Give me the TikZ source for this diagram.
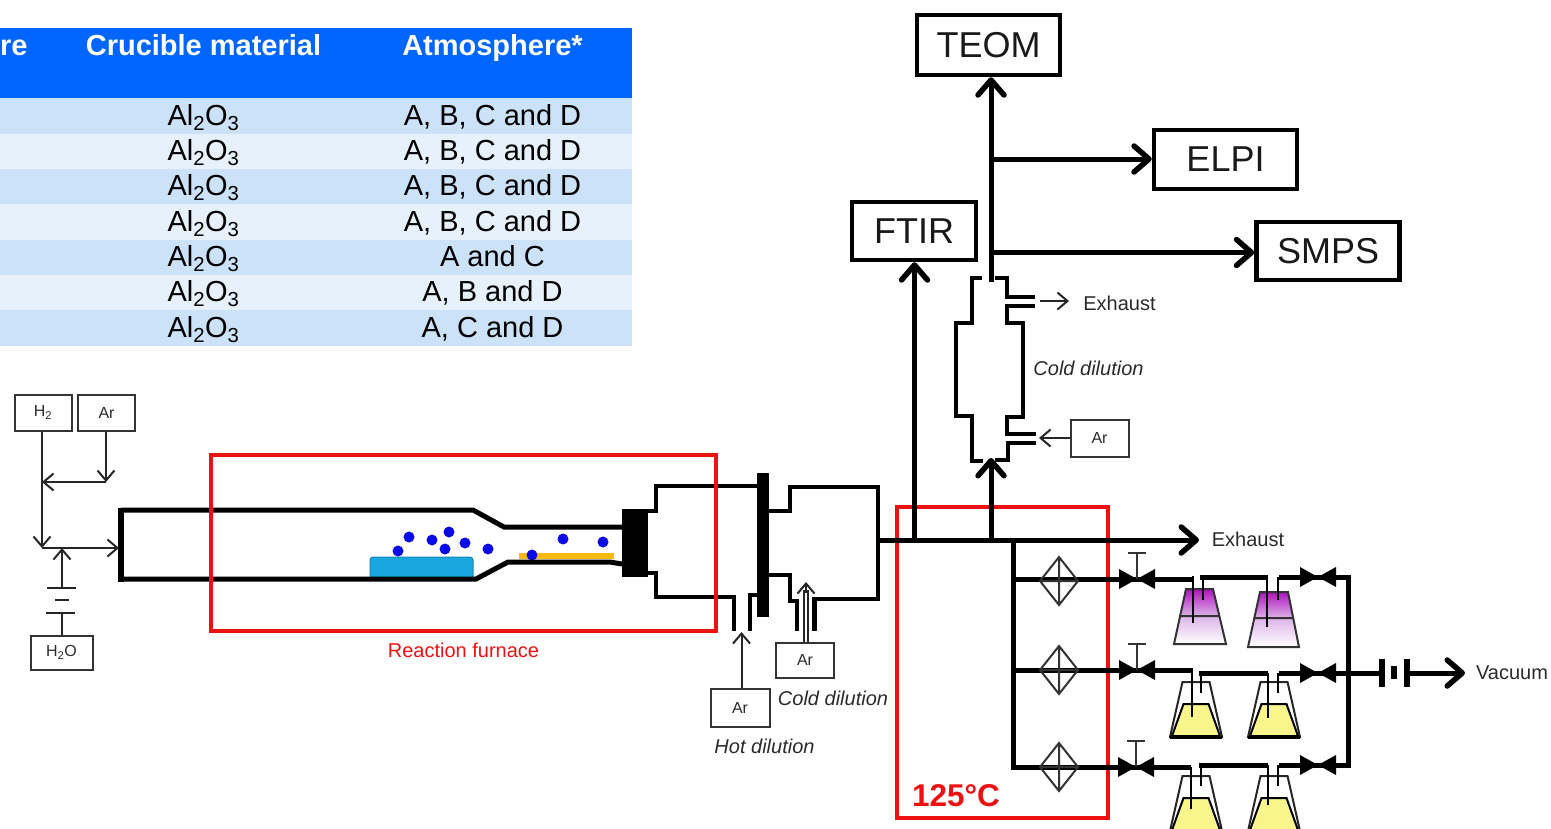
\documentclass[tikz,border=0pt]{standalone}
\usepackage{fontspec}
\setmainfont{Liberation Sans}
\usetikzlibrary{arrows.meta,calc}
\definecolor{hdrblue}{HTML}{0066FF}
\definecolor{rowa}{HTML}{CBE2F9}
\definecolor{rowb}{HTML}{E6F1FC}
\definecolor{furnred}{HTML}{EE1111}
\definecolor{inktext}{HTML}{2A2A2A}
\definecolor{sampleblue}{HTML}{1AA7E0}
\definecolor{stripgold}{HTML}{F5BB12}
\definecolor{dotblue}{HTML}{0A0AE6}
\definecolor{liqyellow}{HTML}{F8F58C}
\definecolor{purpletop}{HTML}{B012C0}
\definecolor{purplemid}{HTML}{DCB4E8}
\newcommand{\fsz}[1]{\fontsize{#1pt}{#1pt}\selectfont}
\tikzset{
  bigbox/.style={draw=black,line width=4.5pt,inner sep=0pt,font=\fsz{36},text=black!90},
  smallbox/.style={draw=black!80,line width=2pt,inner sep=0pt,font=\fsz{16},text=inktext},
  lab/.style={inner sep=0pt,font=\fsz{20},text=inktext},
  cell/.style={anchor=base,inner sep=0pt,font=\fsz{29},text=black},
  hcell/.style={anchor=base,inner sep=0pt,font=\fsz{29}\bfseries,text=white},
  thickln/.style={line width=5pt,line join=miter,draw=black},
  pipe/.style={line width=4.5pt,line join=miter,draw=black},
  thinln/.style={line width=2pt,draw=black!85},
  bigtip/.style={-{Straight Barb[length=15pt,width=26pt,line width=5.5pt,round]}},
  thintip/.style={-{Straight Barb[length=10pt,width=17pt,line width=2pt]}},
  redbox/.style={draw=furnred,line width=4.5pt,line join=miter},
  dotp/.style={fill=dotblue,draw=none},
  yflask/.pic={
    \draw[line width=2pt,draw=black!85] (-13.5,0)--(13.5,0)--(26,55)--(-26,55)--cycle;
    \draw[fill=liqyellow,line width=2pt] (-12.5,22)--(12.5,22)--(24,54)--(-24,54)--cycle;
    \draw[line width=3pt] (-26,55)--(26,55);
  },
  diam/.pic={
    \draw[line width=2pt,draw=black!80] (-19,0)--(0,-24)--(19,0)--(0,24)--cycle (0,-24)--(0,24) (-19,0)--(19,0);
  },
  valvebt/.pic={
    \fill[black] (-18,-10)--(0,0)--(-18,10)--cycle (18,-10)--(0,0)--(18,10)--cycle;
  },
  stemT/.pic={
    \draw[line width=2pt,draw=black!80] (0,0)--(0,-26) (-9,-26)--(9,-26);
  }
}
\begin{document}
\begin{tikzpicture}[x=1pt,y=-1pt]
\useasboundingbox (0,0) rectangle (1551,828);
\clip (0,0) rectangle (1551,828);
% table
\fill[hdrblue] (0,28) rectangle (632,98);
\fill[rowa] (0,98) rectangle (632,134);
\fill[rowb] (0,134) rectangle (632,169);
\fill[rowa] (0,169) rectangle (632,204);
\fill[rowb] (0,204) rectangle (632,240);
\fill[rowa] (0,240) rectangle (632,275);
\fill[rowb] (0,275) rectangle (632,310);
\fill[rowa] (0,310) rectangle (632,346);
\node[hcell,anchor=base west] (h1) at (0,55) {re};
\node[hcell] (h2) at (203.5,55) {Crucible material};
\node[hcell] (h3) at (492.5,55) {Atmosphere*};
\foreach \i/\yy/\t in {1/125/{A, B, C and D},2/160/{A, B, C and D},3/195/{A, B, C and D},4/231/{A, B, C and D},5/266/{A and C},6/301/{A, B and D},7/337/{A, C and D}}{
  \node[cell] (m\i) at (203.5,\yy) {Al\textsubscript{2}O\textsubscript{3}};
  \node[cell] (a\i) at (492.5,\yy) {\t};
}
% furnace sample and particles
\draw[fill=sampleblue,draw=sampleblue!80!black,line width=1pt,rounded corners=3pt] (370,579)--(370,557)--(473,557)--(473,579);
\fill[stripgold] (519,553) rectangle (614,559);
\foreach \px/\py in {398/551,409/537,432/540,449/532,445/549,465/543,488/549,532/555,563/539,603/542}
  \fill[dotp] (\px,\py) circle (5.5);
% tube
\draw[pipe,line width=5pt] (622,527)--(504,527)--(473,510)--(121,510);
\draw[pipe,line width=6.5pt] (121,507.5)--(121,581.5);
\draw[pipe,line width=5pt] (121,579)--(476,579)--(508,562)--(610,562)--(622,564);
\fill[black] (622,509) rectangle (648,577);
% first dilution stage
\draw[pipe] (648,511)--(656,511)--(656,486)--(757,486);
\draw[pipe] (648,573)--(656,573)--(656,597)--(734,597)--(734,631);
\draw[pipe] (750,631)--(750,595)--(757,595);
\fill[black] (757,473) rectangle (769,617);
% second dilution stage
\draw[pipe] (769,511)--(790,511)--(790,487)--(878,487)--(878,599)--(814.5,599)--(814.5,631);
\draw[pipe] (769,575)--(790,575)--(790,601)--(797,601)--(797,631);
% red boxes
\draw[redbox] (211,455) rectangle (716,631);
\draw[redbox] (897,507) rectangle (1108,818);
\node[inner sep=0pt,font=\fsz{20},text=furnred] (rf) at (463.5,650) {Reaction furnace};
\node[inner sep=0pt,font=\fsz{31.5}\bfseries,text=furnred] (t125) at (956,796) {125°C};
% gas supply
\node[smallbox,minimum width=57pt,minimum height=36pt] (h2b) at (43,412.5) {H\textsubscript{2}};
\node[smallbox,minimum width=57pt,minimum height=36pt] (arb) at (106.5,412.5) {Ar};
\node[smallbox,minimum width=62pt,minimum height=34pt] (h2o) at (61.5,652.5) {H\textsubscript{2}O};
\coordinate (arj) at (106,482);
\coordinate (mixj) at (42,548);
\coordinate (h2oj) at (62,548);
\coordinate (tubein) at (119,548);
\coordinate (h2onode) at (42,482);
\draw[thinln,thintip] (h2b.south -| mixj) -- (mixj);
\draw[thinln,thintip] (arb.south -| arj) -- (arj);
\draw[thinln,thintip] (arj) -- (h2onode);
\draw[thinln,thintip] (mixj) -- (tubein);
\coordinate (pl1) at (62,588);
\draw[thinln,thintip] (pl1) -- (h2oj);
\draw[thinln] (47,588)--(76,588) (55,600)--(69,600) (46,613)--(75,613);
\draw[thinln] (h2o.north -| h2oj) -- (62,613);
% dilution Ar
\node[smallbox,minimum width=59pt,minimum height=38pt] (arhot) at (740,708) {Ar};
\node[smallbox,minimum width=58pt,minimum height=35pt] (arcold) at (805,660) {Ar};
\node[lab,font=\fsz{20}\itshape] (lhot) at (764.5,746) {Hot dilution};
\node[lab,font=\fsz{20}\itshape] (lcold) at (833,698) {Cold dilution};
\coordinate (hotin) at (741.5,632);
\draw[thinln,thintip] (arhot.north -| hotin) -- (hotin);
\coordinate (coldin) at (806,582);
\draw[thinln,line width=1.6pt] (arcold.north -| 804,0) -- (804,590) (arcold.north -| 808,0) -- (808,590);
\draw[thinln,thintip] ($(coldin)+(0,11)$) -- (coldin);
% instruments
\node[bigbox,minimum width=143pt,minimum height=60pt] (teom) at (988.5,45) {TEOM};
\node[bigbox,minimum width=143pt,minimum height=59pt] (elpi) at (1225.5,159.5) {ELPI};
\node[bigbox,minimum width=124pt,minimum height=58pt] (ftir) at (914,231) {FTIR};
\node[bigbox,minimum width=143pt,minimum height=58pt] (smps) at (1328,251) {SMPS};
% main lines
\coordinate (mainL) at (878,540);
\coordinate (ftirj) at (914.5,540);
\coordinate (colj) at (991,540);
\coordinate (exj) at (1013,540);
\coordinate (exend) at (1199,540);
\coordinate (top) at (991,282);
\coordinate (elj) at (991,159);
\coordinate (smj) at (991,252.5);
\draw[thickln,bigtip] (mainL) -- (exend);
\draw[thickln,bigtip] (ftirj) -- (ftirj |- ftir.south);
\draw[thickln,bigtip] (colj) -- (991,458);
\draw[thickln,bigtip] (top) -- (top |- teom.south);
\draw[thickln,bigtip] (elj) -- (elj -| elpi.west);
\draw[thickln,bigtip] (smj) -- (smj -| smps.west);
\node[lab] (lex1) at (1248,539) {Exhaust};
% vertical cold dilution
\draw[pipe] (982,278)--(972,278)--(972,323)--(956,323)--(956,416)--(972,416)--(972,461)--(983,461);
\draw[pipe] (995,278)--(1007,278)--(1007,297)--(1035,297);
\draw[pipe] (1035,306)--(1007,306)--(1007,323)--(1023,323)--(1023,417)--(1007,417)--(1007,434)--(1036,434);
\draw[pipe] (1036,443)--(1008,443)--(1008,460)--(995,460);
\coordinate (exs) at (1040,301);
\coordinate (exe) at (1069,301);
\draw[thinln,thintip] (exs) -- (exe);
\node[lab] (lex2) at (1119.5,303) {Exhaust};
\node[lab,font=\fsz{20}\itshape] (lcd) at (1088.5,368) {Cold dilution};
\node[smallbox,minimum width=58pt,minimum height=37pt] (ar3) at (1099.5,438) {Ar};
\coordinate (ar3in) at (1039,438);
\draw[thinln,thintip] (ar3.west |- ar3in) -- (ar3in);
% purple flasks
\shade[top color=purpletop,bottom color=purplemid] (1186,589)--(1213,589)--(1219.5,616)--(1180,616)--cycle;
\shade[top color=purplemid,bottom color=white] (1180,616)--(1219.5,616)--(1226,644)--(1174,644)--cycle;
\draw[line width=2pt,draw=black!80] (1186,589)--(1213,589)--(1226,644)--(1174,644)--cycle (1180,616)--(1219.5,616);
\shade[top color=purpletop,bottom color=purplemid] (1260,592)--(1288,592)--(1293.5,618)--(1254.5,618)--cycle;
\shade[top color=purplemid,bottom color=white] (1254.5,618)--(1293.5,618)--(1299,647)--(1248,647)--cycle;
\draw[line width=2pt,draw=black!80] (1260,592)--(1288,592)--(1299,647)--(1248,647)--cycle (1254.5,618)--(1293.5,618);
% yellow flasks
\pic at (1196,682) {yflask};
\pic at (1274,682) {yflask};
\pic at (1196,776) {yflask};
\pic at (1274,776) {yflask};
% impactor rows
\coordinate (r1) at (1013,579);
\coordinate (r2) at (1013,670);
\coordinate (r3) at (1013,767);
\draw[thickln] (exj) -- (1013,769.5);
\draw[thickln] (r1) -- (1137,579);
\draw[thickln] (r2) -- (1137,670);
\draw[thickln] (r3) -- (1137,767);
\pic at (1059,581) {diam};
\pic at (1059,670) {diam};
\pic at (1059,767) {diam};
% row 1 lines
\draw[thickln] (1137,579)--(1192,579);
\draw[line width=2.2pt] (1193,576)--(1193,623);
\draw[line width=2.2pt] (1203,577)--(1203,600);
\draw[thickln] (1200,577)--(1268,577);
\draw[line width=2.2pt] (1267,577)--(1267,627);
\draw[line width=2.2pt] (1278,577)--(1278,600);
\draw[thickln] (1279,577)--(1351,577);
% row 2 lines
\draw[thickln] (1137,670)--(1193,670);
\draw[line width=2.2pt] (1192,670)--(1192,717);
\draw[line width=2.2pt] (1201,673)--(1201,693);
\draw[thickln] (1199,673)--(1268,673);
\draw[line width=2.2pt] (1268,673)--(1268,718);
\draw[line width=2.2pt] (1278,673)--(1278,693);
\draw[thickln] (1279,673)--(1382,673);
% row 3 lines
\draw[thickln] (1136,767)--(1191,767);
\draw[line width=2.2pt] (1191,767)--(1191,809);
\draw[line width=2.2pt] (1201,765)--(1201,786);
\draw[thickln] (1199,765)--(1268,765);
\draw[line width=2.2pt] (1268,765)--(1268,805);
\draw[line width=2.2pt] (1278,765)--(1278,786);
\draw[thickln] (1279,765)--(1351,765);
% valves over the lines
\pic at (1137,579) {valvebt};
\pic at (1137,670) {valvebt};
\pic at (1136,767) {valvebt};
\pic at (1137,579) {stemT};
\pic at (1137,670) {stemT};
\pic at (1136,767) {stemT};
\pic at (1318,577) {valvebt};
\pic at (1318,673) {valvebt};
\pic at (1318,765) {valvebt};
% right collector and vacuum
\draw[thickln] (1348,575)--(1348,767.5);
\draw[line width=6pt] (1382,659)--(1382,687);
\draw[line width=6pt] (1394,666)--(1394,679);
\draw[line width=6pt] (1407,659)--(1407,687);
\coordinate (vs) at (1407,673);
\coordinate (ve) at (1465,673);
\draw[thickln,bigtip] (vs) -- (ve);
\node[lab] (lvac) at (1512,673) {Vacuum};
\end{tikzpicture}
\end{document}
